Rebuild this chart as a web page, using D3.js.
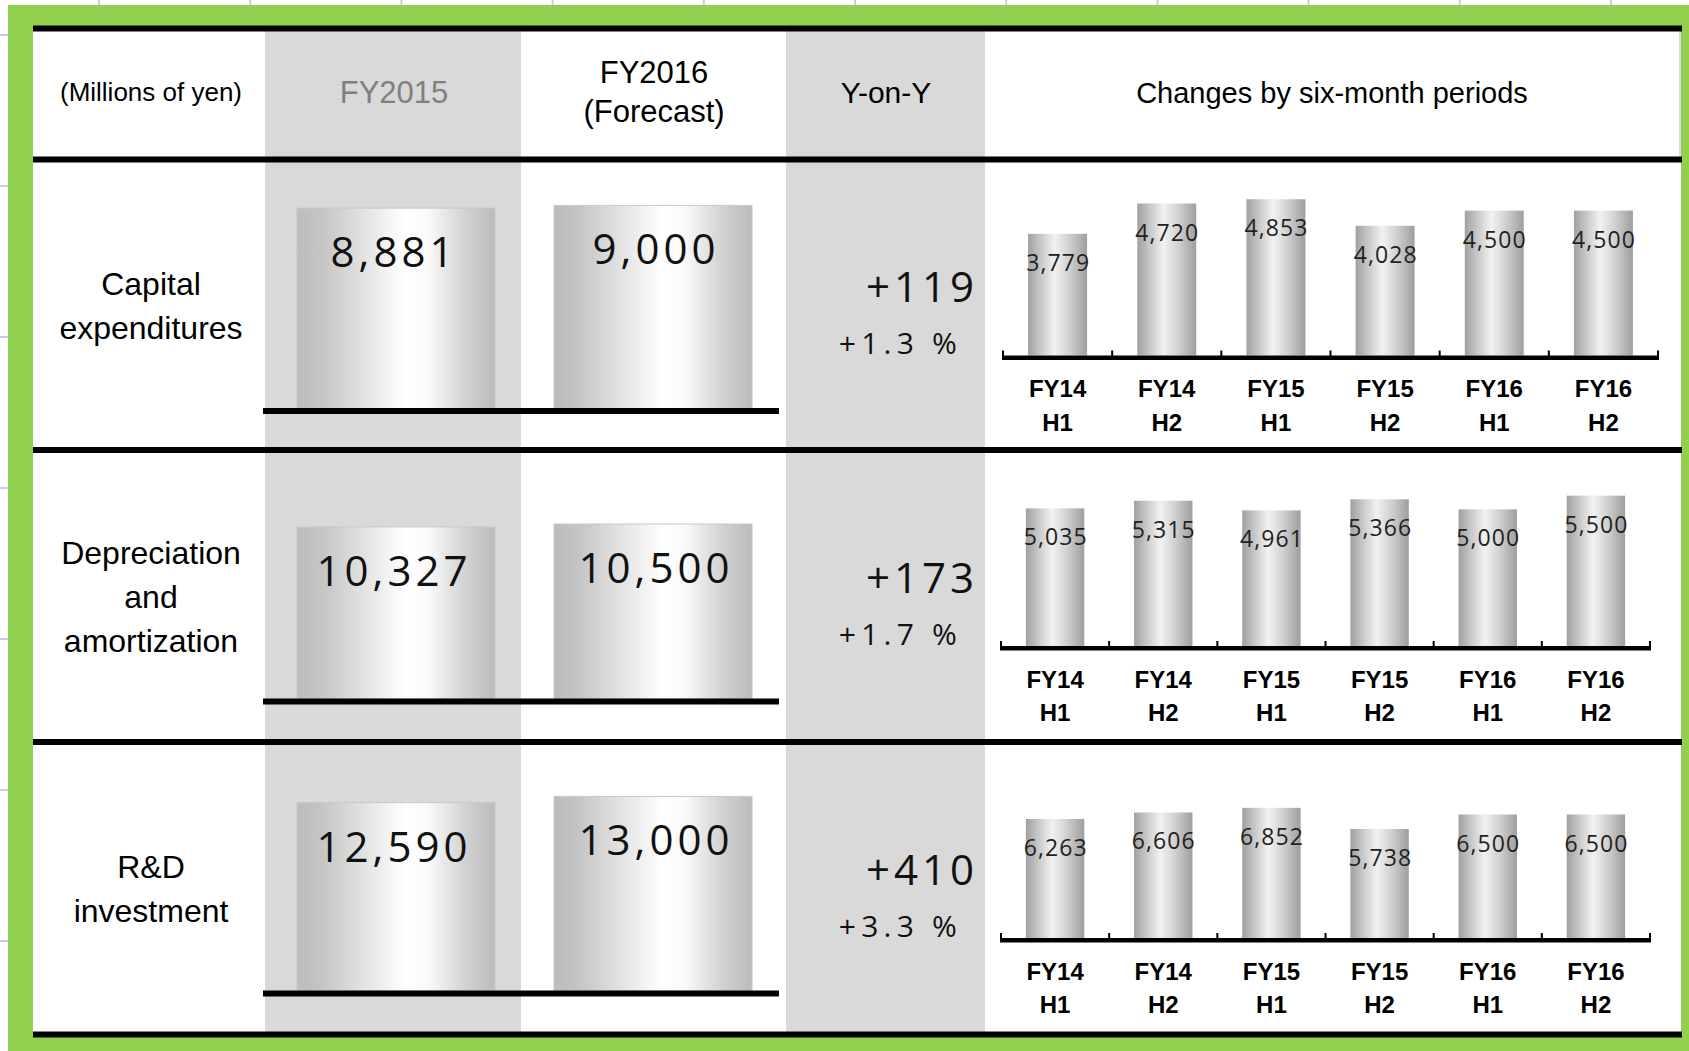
<!DOCTYPE html>
<html><head><meta charset="utf-8">
<script src="https://cdn.jsdelivr.net/npm/d3@7"></script>
<style>body{margin:0;background:#fff;overflow:hidden} svg{display:block}</style>
</head><body><svg id="c" width="1689" height="1051"></svg>
<script>
// ---------- data ----------
const metricLines = [["Capital", "expenditures"], ["Depreciation", "and", "amortization"], ["R&D", "investment"]];
const yearLabels = ["FY2015", "FY2016"];
const fy2015 = [8881, 10327, 12590];
const fy2016 = [9000, 10500, 13000];
const yoyChange = [119, 173, 410];
const yoyPct = [1.3, 1.7, 3.3];
const periods = ["FY14 H1", "FY14 H2", "FY15 H1", "FY15 H2", "FY16 H1", "FY16 H2"];
const capexHalf = [3779, 4720, 4853, 4028, 4500, 4500];
const deprHalf = [5035, 5315, 4961, 5366, 5000, 5500];
const rdHalf = [6263, 6606, 6852, 5738, 6500, 6500];
const headerUnit = "(Millions of yen)";
const headerYoY = "Y-on-Y";
const headerHalf = "Changes by six-month periods";
const forecastNote = "(Forecast)";

// ---------- layout ----------
const svg = d3.select("#c");
const W = 1689, H = 1051;
const bigMax = [9750, 13200, 14700];
const smallMax = [5900, 6950, 10000];
const smallRange = [[1003, 1658], [1001, 1650], [1001, 1650]];
const halfSeries = [capexHalf, deprHalf, rdHalf];
const rowY0 = [159.5, 450, 742];
const labelFont = "'Liberation Sans', Arial, sans-serif";
const numFont = "'Open Sans', 'Noto Sans', sans-serif";

const defs = svg.append("defs");
function grad(id, stops) {
  const g = defs.append("linearGradient").attr("id", id).attr("x1", 0).attr("x2", 1).attr("y1", 0).attr("y2", 0);
  stops.forEach(s => g.append("stop").attr("offset", s[0]).attr("stop-color", s[1]));
}
grad("bigCyl", [[0, "#bcbcbc"], [0.12, "#c4c4c4"], [0.32, "#e0e0e0"], [0.55, "#ffffff"], [0.66, "#fafafa"], [0.85, "#d2d2d2"], [1, "#bababa"]]);
grad("smallCyl", [[0, "#a0a0a0"], [0.18, "#c2c2c2"], [0.45, "#f2f2f2"], [0.7, "#d0d0d0"], [1, "#9e9e9e"]]);

// background + excel-like grid
svg.append("rect").attr("width", W).attr("height", H).attr("fill", "#ffffff");
const gridG = svg.append("g").attr("stroke", "#c9c9f5").attr("stroke-width", 2);
gridG.selectAll("line.v").data(d3.range(99, W, 151.2)).join("line")
  .attr("x1", d => d).attr("x2", d => d).attr("y1", 0).attr("y2", H);
gridG.selectAll("line.h").data(d3.range(35, H, 151)).join("line")
  .attr("y1", d => d).attr("y2", d => d).attr("x1", 0).attr("x2", W);

// green frame and white content
svg.append("rect").attr("x", 8).attr("y", 5).attr("width", W - 8).attr("height", H - 5).attr("fill", "#92d050");
svg.append("rect").attr("x", 33).attr("y", 31).attr("width", 1648).attr("height", 1001).attr("fill", "#ffffff");
// shaded columns
svg.append("rect").attr("x", 265).attr("y", 31).attr("width", 256).attr("height", 1001).attr("fill", "#d9d9d9");
svg.append("rect").attr("x", 786).attr("y", 31).attr("width", 199).attr("height", 1001).attr("fill", "#d9d9d9");
svg.append("rect").attr("x", 1679).attr("y", 31).attr("width", 2).attr("height", 125).attr("fill", "#d9d9d9");

// header texts
const hdr = svg.append("g").attr("font-family", labelFont).attr("text-anchor", "middle").attr("fill", "#000");
hdr.append("text").attr("x", 151).attr("y", 101).attr("font-size", 26).text(headerUnit);
hdr.append("text").attr("x", 394).attr("y", 103).attr("font-size", 31).attr("fill", "#808080").text(yearLabels[0]);
hdr.append("text").attr("x", 654).attr("y", 83).attr("font-size", 31).text(yearLabels[1]);
hdr.append("text").attr("x", 654).attr("y", 122).attr("font-size", 31).text(forecastNote);
hdr.append("text").attr("x", 886).attr("y", 103).attr("font-size", 30).text(headerYoY);
hdr.append("text").attr("x", 1332).attr("y", 103).attr("font-size", 29).text(headerHalf);

const fmt = d3.format(",");
const fmtChg = d3.format("+,");
const fmtPct = v => d3.format("+.1f")(v) + " %";

// big bar x scale
const xBig = d3.scaleBand().domain(yearLabels).range([267.4, 781.6]).paddingInner(0.2296).paddingOuter(0.115);

metricLines.forEach((lines, i) => {
  const g = svg.append("g").attr("transform", `translate(0,${rowY0[i]})`);

  // row label
  const lh = 44, cy = 146.5;
  g.append("g").attr("font-family", labelFont).attr("font-size", 32).attr("text-anchor", "middle")
    .selectAll("text").data(lines).join("text")
    .attr("x", 151)
    .attr("y", (d, k) => cy - (lines.length - 1) * lh / 2 + k * lh + 11)
    .text(d => d);

  // big cylinders
  const yBig = d3.scaleLinear().domain([0, bigMax[i]]).range([249, 29]);
  const bigData = [{k: yearLabels[0], v: fy2015[i]}, {k: yearLabels[1], v: fy2016[i]}];
  g.selectAll("rect.big").data(bigData).join("rect").attr("class", "big")
    .attr("x", d => xBig(d.k)).attr("width", xBig.bandwidth())
    .attr("y", d => yBig(d.v)).attr("height", d => yBig(0) - yBig(d.v))
    .attr("fill", "url(#bigCyl)").attr("stroke", "#c8c8c8").attr("stroke-width", 1);
  g.selectAll("text.big").data(bigData).join("text").attr("class", "big")
    .attr("x", d => xBig(d.k) + xBig.bandwidth() / 2 + (d.k === yearLabels[1] ? 3 : -2))
    .attr("y", d => yBig(d.v) + 59)
    .attr("text-anchor", "middle").attr("font-family", numFont).attr("font-size", 42)
    .attr("letter-spacing", 4).attr("fill", "#111").text(d => fmt(d.v));
  g.append("rect").attr("x", 263).attr("y", 248.5).attr("width", 516).attr("height", 6).attr("fill", "#000");

  // Y-on-Y
  g.append("text").attr("x", 978).attr("y", 142.5).attr("text-anchor", "end")
    .attr("font-family", numFont).attr("font-size", 42)
    .attr("letter-spacing", 4).attr("fill", "#111")
    .text(fmtChg(yoyChange[i]));
  g.append("text").attr("x", 962).attr("y", 194.5).attr("text-anchor", "end")
    .attr("font-family", numFont).attr("font-size", 30)
    .attr("letter-spacing", 5.2).attr("fill", "#111")
    .text(fmtPct(yoyPct[i]));

  // small bars
  const xSmall = d3.scaleBand().domain(periods).range(smallRange[i]).paddingInner(0.46).paddingOuter(0.23);
  const edge = d3.scaleLinear().domain([0, periods.length]).range(smallRange[i]);
  const ySmall = d3.scaleLinear().domain([0, smallMax[i]]).range([196, 6]);
  const sData = periods.map((p, k) => ({p, v: halfSeries[i][k]}));
  g.selectAll("rect.sm").data(sData).join("rect").attr("class", "sm")
    .attr("x", d => xSmall(d.p)).attr("width", xSmall.bandwidth())
    .attr("y", d => ySmall(d.v)).attr("height", d => ySmall(0) - ySmall(d.v))
    .attr("fill", "url(#smallCyl)");
  g.selectAll("text.sm").data(sData).join("text").attr("class", "sm")
    .attr("x", d => xSmall(d.p) + xSmall.bandwidth() / 2 + 0.6)
    .attr("y", d => ySmall(d.v) + 37)
    .attr("text-anchor", "middle").attr("font-family", numFont).attr("font-size", 23)
    .attr("letter-spacing", 1.1).attr("fill", "#222").text(d => fmt(d.v));
  // axis line + ticks
  g.append("rect").attr("x", edge(0) - 1).attr("y", 196).attr("width", edge(periods.length) - edge(0) + 2).attr("height", 4.5).attr("fill", "#000");
  g.selectAll("rect.tick").data(d3.range(periods.length + 1)).join("rect").attr("class", "tick")
    .attr("x", d => edge(d) - 1).attr("width", 2)
    .attr("y", 191).attr("height", 9).attr("fill", "#000");
  // category labels
  const cat = g.append("g").attr("font-family", labelFont).attr("font-weight", "bold")
    .attr("font-size", 24).attr("text-anchor", "middle");
  cat.selectAll("text.l1").data(periods).join("text").attr("class", "l1")
    .attr("x", d => xSmall(d) + xSmall.bandwidth() / 2).attr("y", 237.5).text(d => d.split(" ")[0]);
  cat.selectAll("text.l2").data(periods).join("text").attr("class", "l2")
    .attr("x", d => xSmall(d) + xSmall.bandwidth() / 2).attr("y", 271).text(d => d.split(" ")[1]);
});

// black rules
svg.selectAll("rect.rule").data([28.5, 159.5, 450, 742, 1034.5]).join("rect").attr("class", "rule")
  .attr("x", 33).attr("y", d => d - 3).attr("width", 1649).attr("height", 6).attr("fill", "#000");
</script></body></html>
